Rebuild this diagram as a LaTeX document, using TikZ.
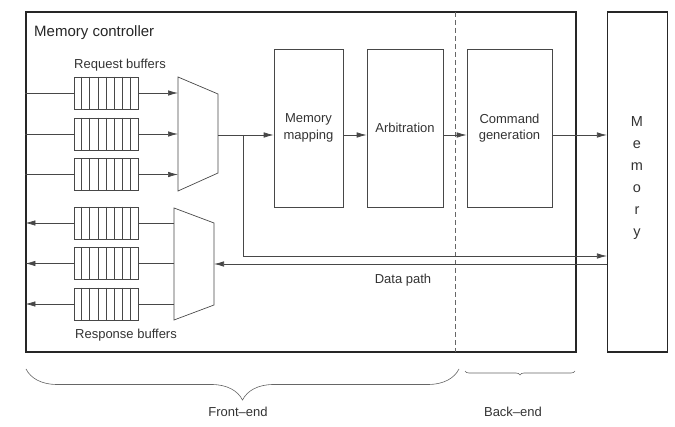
\documentclass[tikz,border=0pt]{standalone}
\usepackage{fontspec}
\setmainfont{Liberation Sans}
\usetikzlibrary{arrows.meta,calc,decorations.pathreplacing}
\begin{document}
\begin{tikzpicture}[x=1pt,y=-1pt,
  line/.style={draw=black!72, line width=0.7pt},
  frame/.style={draw=black!85, line width=1.1pt, rectangle, inner sep=0pt},
  arr/.style={line, -{Latex[length=10pt,width=5.5pt]}},
  buf/.style={line, rectangle, minimum width=64pt, minimum height=32pt, inner sep=0pt},
  blk/.style={line, rectangle, inner sep=0pt, align=center, text=black!80,
    minimum height=158pt, font=\fontsize{13}{16.5}\selectfont},
  lbl/.style={font=\fontsize{13}{15}\selectfont, text=black!80, inner sep=0pt},
  bracestyle/.style={draw=black!60, line width=0.6pt, decorate},
]
\useasboundingbox (0,0) rectangle (675,427);

% frames
\node[frame, minimum width=550pt, minimum height=340pt] (mc) at (301,182) {};
\node[frame, minimum width=60pt, minimum height=340pt] (mem) at (637.5,182) {};
\node[inner sep=0pt, align=center, text=black!80, font=\fontsize{14.5}{22}\selectfont] (memtxt) at (637,178.5) {M\\e\\m\\o\\r\\y};
\node[anchor=base west, inner sep=0pt, text=black!85, font=\fontsize{15}{17}\selectfont] (title) at (34,37) {Memory controller};

% dashed separator
\coordinate (dtop) at (455,12);
\coordinate (dbot) at (455,352);
\draw[draw=black!60, line width=0.6pt, dash pattern=on 5pt off 3pt] (dtop) -- (dbot);

% request buffers
\node[lbl] (reqlbl) at (120,65) {Request buffers};
\node[buf] (rq1) at (106,93) {};
\node[buf] (rq2) at (106,134) {};
\node[buf] (rq3) at (106,174.5) {};
% response buffers
\node[buf] (rs1) at (106,223) {};
\node[buf] (rs2) at (106,263.5) {};
\node[buf] (rs3) at (106,304) {};
\node[lbl] (reslbl) at (126,335) {Response buffers};

\foreach \b in {rq1,rq2,rq3,rs1,rs2,rs3}{
  \foreach \i in {1,...,7}{
    \draw[line] ($(\b.north west)!\i/8!(\b.north east)$) -- ($(\b.south west)!\i/8!(\b.south east)$);
  }
}

% request mux
\coordinate (mqtl) at (178,77);
\coordinate (mqtr) at (218,94);
\coordinate (mqbr) at (218,173);
\coordinate (mqbl) at (178,191);
\draw[line] (mqtl) -- (mqtr) -- (mqbr) -- (mqbl) -- cycle;
\coordinate (mqo) at (218,135);

% response mux
\coordinate (mstl) at (174,208);
\coordinate (mstr) at (214,223);
\coordinate (msbr) at (214,305);
\coordinate (msbl) at (174,320);
\draw[line] (mstl) -- (mstr) -- (msbr) -- (msbl) -- cycle;
\coordinate (rin) at (214,264);

% blocks
\node[blk, minimum width=69pt] (mm) at (308.5,128) {Memory\\mapping};
\node[blk, minimum width=76pt] (arb) at (405,128) {Arbitration};
\node[blk, minimum width=85pt] (cg) at (509.5,128) {Command\\generation};

% request side connectors
\foreach \b in {rq1,rq2,rq3}{
  \draw[line] (mc.west |- \b) -- (\b.west);
  \draw[arr] (\b.east) -- (mqtl |- \b);
}
% response side connectors
\foreach \b in {rs1,rs2,rs3}{
  \draw[arr] (\b.west) -- (mc.west |- \b);
  \draw[line] (\b.east) -- (mstl |- \b);
}

% main pipeline
\draw[arr] (mqo) -- (mqo -| mm.west);
\draw[arr] (mm.east |- mqo) -- (arb.west |- mqo);
\draw[arr] (arb.east |- mqo) -- (cg.west |- mqo);
\draw[arr] (cg.east |- mqo) -- (mem.west |- mqo);

% data paths
\coordinate (br) at (243,135);
\coordinate (wbend) at (243,256);
\draw[arr] (br) -- (wbend) -- (wbend -| mem.west);
\draw[arr] (rin -| mem.west) -- (rin);
\node[lbl] (dp) at (403,280) {Data path};

% braces
\coordinate (fb1) at (26,369);
\coordinate (fb2) at (459,369);
\draw[bracestyle, decoration={brace, mirror, amplitude=31pt}] (fb1) -- (fb2);
\coordinate (bb1) at (465,371);
\coordinate (bb2) at (575,371);
\draw[bracestyle, decoration={brace, mirror, amplitude=4pt}] (bb1) -- (bb2);
\node[lbl] (fe) at (238,412) {Front--end};
\node[lbl] (be) at (513,412) {Back--end};
\end{tikzpicture}
\end{document}
